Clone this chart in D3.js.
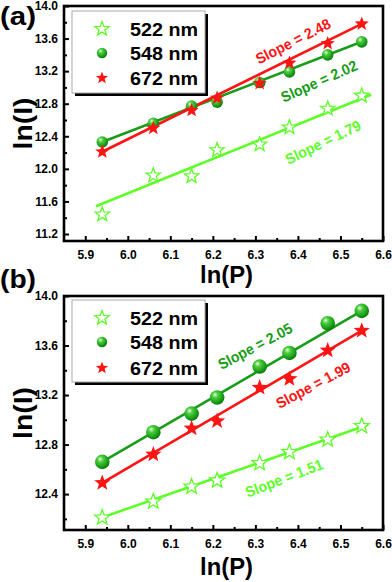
<!DOCTYPE html>
<html><head><meta charset="utf-8">
<script src="https://cdn.jsdelivr.net/npm/d3@7"></script>
<style>
html,body{margin:0;padding:0;background:#fff;}
svg{display:block;font-family:"Liberation Sans",Arial,sans-serif;font-weight:bold;}
</style></head>
<body>
<script>
// ---- data ----
const xVals = [5.94, 6.06, 6.15, 6.21, 6.31, 6.38, 6.47, 6.55];
const seriesNames = ["522 nm", "548 nm", "672 nm"];
const xTicks = [5.9, 6.0, 6.1, 6.2, 6.3, 6.4, 6.5, 6.6];

// panel (a)
const a522 = [11.44, 11.92, 11.91, 12.23, 12.30, 12.51, 12.74, 12.90];
const a548 = [12.33, 12.56, 12.77, 12.82, 13.06, 13.19, 13.40, 13.56];
const a672 = [12.21, 12.50, 12.72, 12.87, 13.05, 13.30, 13.54, 13.78];
const aFitX522 = [5.925, 6.572];
const aFit522 = [11.54, 12.91];
const aFitX548 = [5.94, 6.55];
const aFit548 = [12.33, 13.56];
const aFitX672 = [5.94, 6.55];
const aFit672 = [12.21, 13.78];
const aSlopes = ["Slope = 1.79", "Slope = 2.02", "Slope = 2.48"];
const aYTicks = [11.2, 11.6, 12.0, 12.4, 12.8, 13.2, 13.6, 14.0];

// panel (b)
const b522 = [12.21, 12.34, 12.46, 12.51, 12.65, 12.74, 12.84, 12.95];
const b548 = [12.66, 12.90, 13.05, 13.18, 13.43, 13.54, 13.78, 13.88];
const b672 = [12.49, 12.72, 12.93, 12.99, 13.26, 13.33, 13.56, 13.72];
const bFitX522 = [5.93, 6.565];
const bFit522 = [12.20, 12.96];
const bFitX548 = [5.94, 6.55];
const bFit548 = [12.66, 13.88];
const bFitX672 = [5.94, 6.55];
const bFit672 = [12.49, 13.72];
const bSlopes = ["Slope = 1.51", "Slope = 2.05", "Slope = 1.99"];
const bYTicks = [12.4, 12.8, 13.2, 13.6, 14.0];

const LIME = "#5cff26", GREEN = "#179d17", RED = "#ff1414";

const W = 392, H = 582;
const svg = d3.select("body").append("svg").attr("width", W).attr("height", H);

// gradient for green balls
const defs = svg.append("defs");
const rg = defs.append("radialGradient").attr("id", "ball").attr("cx", "40%").attr("cy", "35%").attr("r", "65%").attr("fx", "35%").attr("fy", "30%");
rg.append("stop").attr("offset", "0%").attr("stop-color", "#e6ffe6");
rg.append("stop").attr("offset", "30%").attr("stop-color", "#4fcf3f");
rg.append("stop").attr("offset", "75%").attr("stop-color", "#1a9f1a");
rg.append("stop").attr("offset", "100%").attr("stop-color", "#0c780c");

function starPath(R) {
  const r = R * 0.42;
  const pts = [];
  for (let i = 0; i < 10; i++) {
    const ang = -Math.PI / 2 + i * Math.PI / 5;
    const rad = i % 2 === 0 ? R : r;
    pts.push([rad * Math.cos(ang), rad * Math.sin(ang)]);
  }
  return "M" + pts.map(p => p[0].toFixed(2) + "," + p[1].toFixed(2)).join("L") + "Z";
}

function drawMarker(g, type, x, y, size) {
  if (type === 0) {
    g.append("path").attr("d", starPath(size)).attr("transform", `translate(${x},${y})`)
      .attr("fill", "#fff").attr("stroke", LIME).attr("stroke-width", 1.3).attr("stroke-linejoin", "miter");
  } else if (type === 1) {
    g.append("circle").attr("cx", x).attr("cy", y).attr("r", size).attr("fill", "url(#ball)");
  } else {
    g.append("path").attr("d", starPath(size)).attr("transform", `translate(${x},${y})`).attr("fill", RED);
  }
}

function panel(cfg) {
  const x = d3.scaleLinear().domain([5.85, 6.6]).range([64, 383]);
  const y = d3.scaleLinear().domain(cfg.yDomain).range([cfg.bottom, cfg.top]);
  const g = svg.append("g");

  // axes (inward ticks)
  const xAxis = d3.axisBottom(x).tickValues(xTicks).tickFormat(d3.format(".1f")).tickSizeInner(-5).tickSizeOuter(0).tickPadding(9);
  g.append("g").attr("transform", `translate(0,${cfg.bottom})`).call(xAxis);
  const xMinor = d3.range(5.95, 6.6, 0.1);
  g.append("g").attr("transform", `translate(0,${cfg.bottom})`)
    .call(d3.axisBottom(x).tickValues(xMinor).tickFormat("").tickSizeInner(-3).tickSizeOuter(0))
    .select(".domain").remove();

  const yAxis = d3.axisLeft(y).tickValues(cfg.yTicks).tickFormat(d3.format(".1f")).tickSizeInner(-5).tickSizeOuter(0).tickPadding(6);
  g.append("g").attr("transform", `translate(64,0)`).call(yAxis);
  const yMinor = cfg.yTicks.map(v => v - 0.2).filter(v => v > cfg.yDomain[0]);
  g.append("g").attr("transform", `translate(64,0)`)
    .call(d3.axisLeft(y).tickValues(yMinor).tickFormat("").tickSizeInner(-3).tickSizeOuter(0))
    .select(".domain").remove();

  g.selectAll(".tick line").attr("stroke", "#000").attr("stroke-width", 2);
  g.selectAll(".tick text").attr("font-size", 12).attr("font-weight", "bold").attr("fill", "#000")
    .attr("font-family", '"Liberation Sans",Arial,sans-serif');
  g.selectAll(".domain").remove();

  // frame
  g.append("rect").attr("x", 64).attr("y", cfg.top).attr("width", 383 - 64).attr("height", cfg.bottom - cfg.top)
    .attr("fill", "none").attr("stroke", "#000").attr("stroke-width", 2.6);

  // fit lines
  const colors = [LIME, GREEN, RED];
  cfg.fits.forEach((f, i) => {
    const line = d3.line().x(d => x(d[0])).y(d => y(d[1]));
    g.append("path").datum(f.xs.map((v, k) => [v, f.ys[k]])).attr("d", line)
      .attr("stroke", colors[i]).attr("stroke-width", 2.6).attr("fill", "none");
  });

  // markers
  cfg.series.forEach((s, i) => {
    s.forEach((v, k) => drawMarker(g, i, x(xVals[k]), y(v), cfg.msize[i]));
  });

  // slope labels
  cfg.slopes.forEach((t, i) => {
    const p = cfg.slopePos[i];
    g.append("text").attr("transform", `translate(${p[0]},${p[1]}) rotate(${p[2]})`)
      .attr("text-anchor", "middle").attr("dominant-baseline", "central")
      .attr("font-size", 15).attr("textLength", 82).attr("lengthAdjust", "spacingAndGlyphs")
      .attr("fill", colors[i]).text(t);
  });

  // legend
  const L = cfg.legend;
  g.append("rect").attr("x", L.x + 3).attr("y", L.y + 3).attr("width", L.w).attr("height", L.h).attr("fill", "#000");
  g.append("rect").attr("x", L.x).attr("y", L.y).attr("width", L.w).attr("height", L.h)
    .attr("fill", "#fff").attr("stroke", "#a9a9a9").attr("stroke-width", 1);
  seriesNames.forEach((n, i) => {
    const yy = L.rows[i];
    drawMarker(g, i, 102, yy, [7.5, 5.2, 6.5][i]);
    g.append("text").attr("x", 130).attr("y", yy + 7).attr("font-size", 19)
      .attr("textLength", 68).attr("lengthAdjust", "spacingAndGlyphs").attr("fill", "#000").text(n);
  });

  // axis titles
  g.append("text").attr("x", (64 + 383) / 2 + 3).attr("y", cfg.bottom + cfg.xtOff).attr("text-anchor", "middle")
    .attr("font-size", 24).attr("textLength", 53).attr("lengthAdjust", "spacingAndGlyphs").text("ln(P)");
  g.append("text").attr("transform", `translate(32,${(cfg.top + cfg.bottom) / 2}) rotate(-90)`)
    .attr("text-anchor", "middle").attr("font-size", 25).attr("textLength", 52).attr("lengthAdjust", "spacingAndGlyphs").text("ln(I)");

  // panel label
  g.append("text").attr("x", 0).attr("y", cfg.labelY).attr("font-size", 25)
    .attr("textLength", 36).attr("lengthAdjust", "spacingAndGlyphs").text(cfg.label);
}

panel({
  top: 6, bottom: 241, yDomain: [11.114, 14.0], yTicks: aYTicks,
  series: [a522, a548, a672],
  fits: [{xs: aFitX522, ys: aFit522}, {xs: aFitX548, ys: aFit548}, {xs: aFitX672, ys: aFit672}],
  msize: [7.5, 5.8, 7.5],
  slopes: aSlopes,
  slopePos: [[323, 142, -26], [319, 81, -24], [293, 41, -27]],
  legend: {x: 72, y: 11, w: 133, h: 82, rows: [29, 53, 78]},
  label: "(a)", labelY: 25, xtOff: 42
});

panel({
  top: 296, bottom: 530, yDomain: [12.11, 14.0], yTicks: bYTicks,
  series: [b522, b548, b672],
  fits: [{xs: bFitX522, ys: bFit522}, {xs: bFitX548, ys: bFit548}, {xs: bFitX672, ys: bFit672}],
  msize: [8, 7.3, 8.5],
  slopes: bSlopes,
  slopePos: [[284, 478, -21], [255, 346, -28], [313, 385, -28]],
  legend: {x: 72, y: 300, w: 133, h: 82, rows: [318, 342, 368]},
  label: "(b)", labelY: 288, xtOff: 45
});
</script>
</body></html>
